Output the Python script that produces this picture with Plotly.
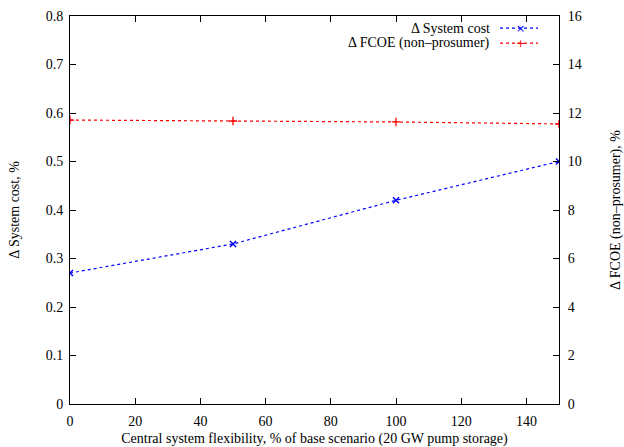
import plotly.graph_objects as go

flex = [0, 50, 100, 150]
system_cost = [0.27, 0.33, 0.42, 0.50]
fcoe = [11.71, 11.67, 11.63, 11.55]

x_ticks = [0, 20, 40, 60, 80, 100, 120, 140]
y1_ticks = [0, 0.1, 0.2, 0.3, 0.4, 0.5, 0.6, 0.7, 0.8]
y1_labels = ["0", "0.1", "0.2", "0.3", "0.4", "0.5", "0.6", "0.7", "0.8"]
y2_ticks = [0, 2, 4, 6, 8, 10, 12, 14, 16]

FONT = "Liberation Serif"
FS = 14
fig = go.Figure()
fig.add_trace(go.Scatter(
    x=flex, y=system_cost, mode="lines+markers", name="Δ System cost",
    line=dict(color="#0000ff", width=1.2, dash="3px,3px"),
    marker=dict(symbol="x-thin", size=6, line=dict(color="#0000ff", width=1.5)),
    showlegend=False, yaxis="y"))
fig.add_trace(go.Scatter(
    x=flex, y=fcoe, mode="lines+markers", name="Δ FCOE (non–prosumer)",
    line=dict(color="#ff0000", width=1.2, dash="3px,3px"),
    marker=dict(symbol="cross-thin", size=6, line=dict(color="#ff0000", width=1.3)),
    showlegend=False, yaxis="y2"))

axis_common = dict(showgrid=False, zeroline=False, ticks="inside", ticklen=6,
                   tickcolor="black", showline=True, linecolor="black", linewidth=1,
                   automargin=False,
                   tickfont=dict(family=FONT, size=FS, color="black"))

fig.update_layout(
    width=624, height=447,
    margin=dict(l=70, r=65, t=16, b=43),
    paper_bgcolor="white", plot_bgcolor="white",
    font=dict(family=FONT, size=FS, color="black"),
    xaxis=dict(range=[0, 150], tickvals=x_ticks, mirror="ticks", ticklabelstandoff=4,
               title=dict(text="Central system flexibility, % of base scenario (20 GW pump storage)",
                          font=dict(family=FONT, size=FS), standoff=6),
               **axis_common),
    yaxis=dict(range=[0, 0.8], tickmode="array", tickvals=y1_ticks, ticktext=y1_labels,
               ticklabelstandoff=3,
               title=dict(text="Δ System cost, %", font=dict(family=FONT, size=FS), standoff=22),
               **axis_common),
    yaxis2=dict(range=[0, 16], tickvals=y2_ticks, overlaying="y", side="right",
                ticklabelstandoff=5,
                title=dict(text="Δ FCOE (non–prosumer), %", font=dict(family=FONT, size=FS), standoff=30),
                **axis_common),
)

legend_items = [("Δ System cost", "#0000ff", "×", 0.969), ("Δ FCOE (non–prosumer)", "#ff0000", "+", 0.930)]
x_text = (492 - 70) / 489
x0 = (500 - 70) / 489
x1 = (538 - 70) / 489
xm = (520 - 70) / 489
for label, color, sym, yy in legend_items:
    fig.add_annotation(x=x_text, y=yy, xref="paper", yref="paper", text=label,
                       showarrow=False, xanchor="right", yanchor="middle",
                       font=dict(family=FONT, size=FS, color="black"))
    fig.add_shape(type="line", xref="paper", yref="paper", x0=x0, x1=x1, y0=yy, y1=yy,
                  line=dict(color=color, width=1.2, dash="3px,3px"))
    fig.add_annotation(x=xm, y=yy, xref="paper", yref="paper", text=sym,
                       showarrow=False, xanchor="center", yanchor="middle",
                       font=dict(family="DejaVu Sans", size=11, color=color))

fig.write_html("out.html")
